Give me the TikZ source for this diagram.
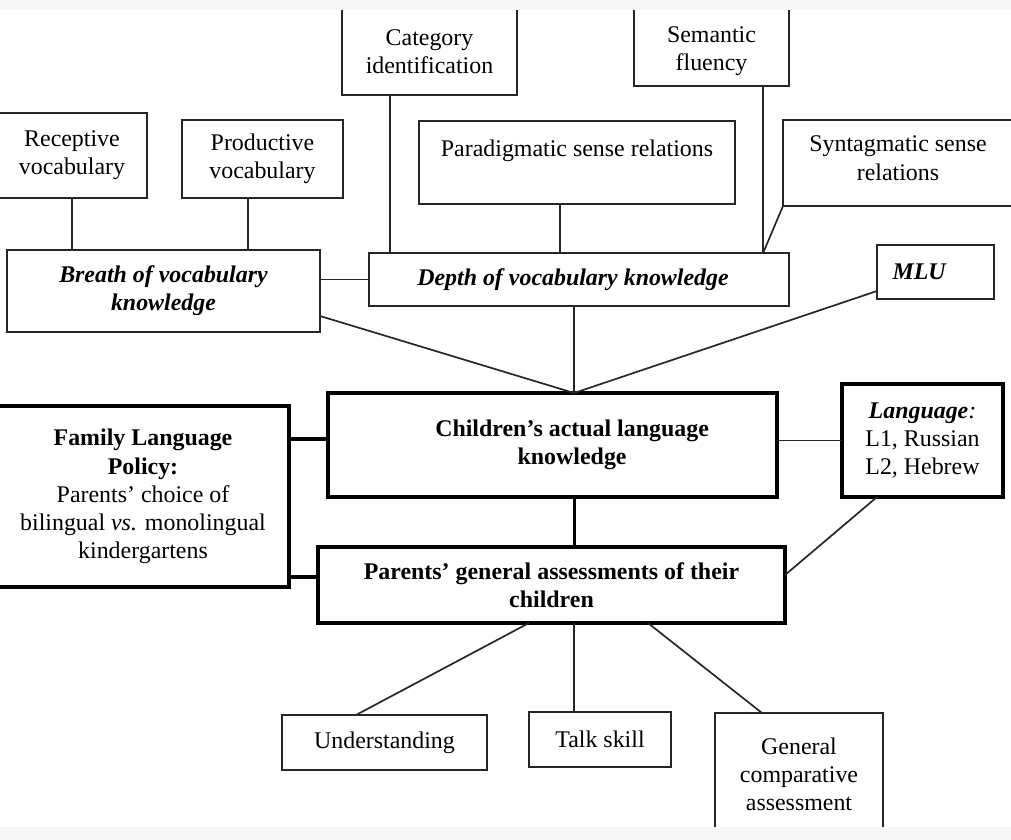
\documentclass[tikz,border=0pt]{standalone}
\usepackage{fontspec}
\setmainfont{Liberation Serif}
\definecolor{bandgray}{RGB}{246,246,246}
\newcommand{\boxfont}{\fontsize{17}{20}\selectfont}

\begin{document}
\begin{tikzpicture}[x=0.025cm, y=-0.025cm,
    every node/.style={font=\boxfont, align=center, inner sep=0pt, outer sep=0pt},
    boxsize/.style 2 args={minimum width=#1*0.025cm, minimum height=#2*0.025cm},
    thinbox/.style={draw=black!85, line width=1.2pt},
    thickbox/.style={draw, line width=2.2pt},
    bi/.style={font=\boxfont\bfseries\itshape},
    bf/.style={font=\boxfont\bfseries},
    link/.style={draw=black!85, line width=1.2pt},
    thicklink/.style={line width=2.2pt}]

\useasboundingbox (0,0) rectangle (1011,840);

% top row
\node[thinbox, boxsize={150}{85}] (rec) at (72, 155.5) {Receptive\\vocabulary};
\node[thinbox, boxsize={161}{78}] (prod) at (262.5, 159) {Productive\\vocabulary};
\node[thinbox, boxsize={175}{87}] (cat) at (429.5, 51.5) {Category\\identification};
\node[thinbox, boxsize={316}{83}] (para) at (577, 162.5) {Paradigmatic sense relations\\~};
\node[thinbox, boxsize={155}{78}] (sem) at (711.5, 47) {\rule{0pt}{17.5pt}Semantic\\fluency};
\node[thinbox, boxsize={230}{86}] (syn) at (898, 163) {Syntagmatic sense\\relations\rule[-7pt]{0pt}{7pt}};

% vocabulary
\node[thinbox, bi, boxsize={313}{82}] (breath) at (163.5, 291) {Breath of vocabulary\\knowledge};
\node[thinbox, bi, boxsize={420}{53}] (depth) at (579, 279.5) {Depth of vocabulary knowledge\hspace*{0.3cm}};
\node[thinbox, bi, boxsize={117}{54}] (mlu) at (935.5, 272) {MLU\hspace*{0.82cm}};

% centre
\node[thickbox, bf, boxsize={449}{104}] (child) at (552.5, 445)
    {\hspace*{0.98cm}Children's actual language\\\hspace*{0.98cm}knowledge};
\node[thickbox, boxsize={161}{113}] (lang) at (922.5, 440.5)
    {\textbf{\textit{Language}}\textit{:}\\L1, Russian\\L2, Hebrew};
\node[thickbox, boxsize={292}{181}] (fam) at (143, 496.5)
    {\textbf{Family Language}\\\textbf{Policy:}\\Parents' choice of\\bilingual \textit{vs.} monolingual\\kindergartens};
\node[thickbox, bf, boxsize={467}{76}] (par) at (551.5, 585)
    {Parents' general assessments of their\\children};

% bottom row
\node[thinbox, boxsize={205}{55}] (und) at (384.5, 742.5) {Understanding};
\node[thinbox, boxsize={142}{55}] (talk) at (600, 739.5) {Talk skill};
\node[thinbox, boxsize={168}{122}] (gen) at (799, 774) {General\\comparative\\assessment};

\coordinate (hub) at ([xshift=0.54cm]child.north);
\coordinate (dj) at ([xshift=1.29cm]sem.south |- depth.north);
\coordinate (cw) at ([yshift=0.15cm]child.west);
\coordinate (pw) at ([yshift=0.2cm]par.west);
\coordinate (tn) at ([xshift=-0.65cm]talk.north);

\draw[link] (rec.south) -- (rec.south |- breath.north);
\draw[link] ([xshift=-0.36cm]prod.south) -- ([xshift=-0.36cm]prod.south |- breath.north);
\draw[link] ([xshift=-0.99cm]cat.south) -- ([xshift=-0.99cm]cat.south |- depth.north);
\draw[link] ([xshift=-0.425cm]para.south) -- ([xshift=-0.425cm]para.south |- depth.north);
\draw[link] (sem.south -| dj) -- (dj);
\draw[link] (syn.south west) -- (dj);
\draw[link] (depth.west -| breath.east) -- (depth.west);

\draw[link] ([yshift=0.4cm]breath.south east) -- (hub);
\draw[link] (depth.south -| hub) -- (hub);
\draw[link] ([yshift=0.2cm]mlu.south west) -- (hub);

\draw[link] (lang.west -| child.east) -- (lang.west);
\draw[thicklink] (child.south -| hub) -- (par.north -| hub);
\draw[thicklink] (fam.east |- cw) -- (cw);
\draw[thicklink] (fam.east |- pw) -- (pw);
\draw[link] ([xshift=0.875cm]lang.south west) -- ([yshift=0.25cm]par.east);

\draw[link] ([xshift=-0.5625cm]par.south) -- ([xshift=-0.7125cm]und.north);
\draw[link] (par.south -| tn) -- (tn);
\draw[link] ([xshift=2.41cm]par.south) -- ([xshift=-0.925cm]gen.north);

% page bands
\fill[bandgray] (0,0) rectangle (1011,10);
\fill[bandgray] (0,827) rectangle (1011,840);

\end{tikzpicture}
\end{document}
